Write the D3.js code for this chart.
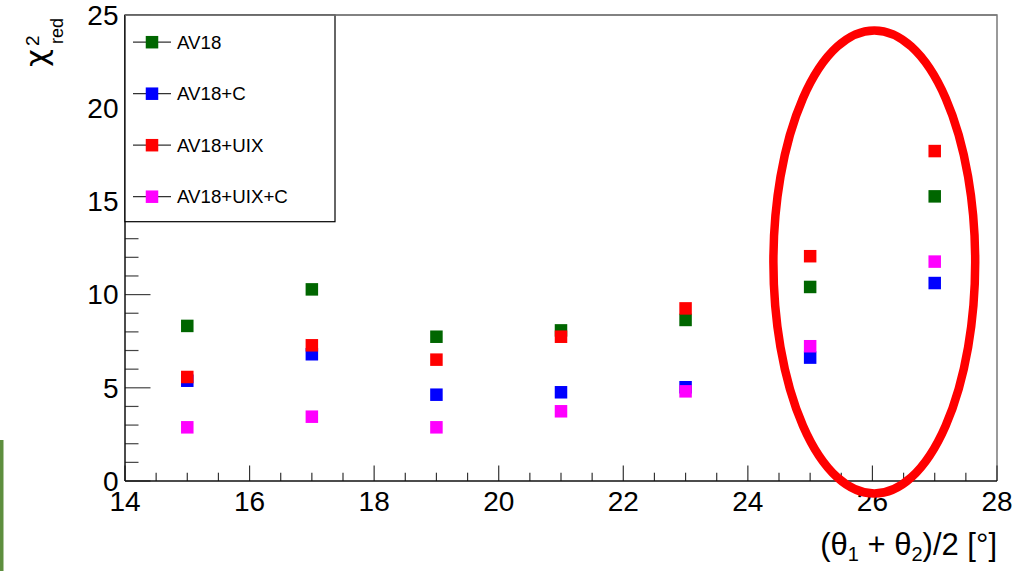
<!DOCTYPE html>
<html>
<head>
<meta charset="utf-8">
<script src="https://cdn.jsdelivr.net/npm/d3@7"></script>
<style>
  html, body { margin: 0; padding: 0; background: #fff; }
  svg { display: block; font-family: "Liberation Sans", Arial, Helvetica, sans-serif; }
</style>
</head>
<body>
<svg id="chart" width="1023" height="571"></svg>
<script>
// ---- data ----
const angles = [15, 17, 19, 21, 23, 25, 27];
const seriesNames = ["AV18", "AV18+C", "AV18+UIX", "AV18+UIX+C"];
const seriesColors = ["#006600", "#0000ff", "#ff0000", "#ff00ff"];
const av18      = [8.32, 10.28, 7.74, 8.08, 8.64, 10.41, 15.27];
const av18C     = [5.38, 6.80, 4.63, 4.76, 5.03, 6.62, 10.62];
const av18UIX   = [5.58, 7.28, 6.51, 7.74, 9.26, 12.06, 17.70];
const av18UIXC  = [2.88, 3.45, 2.88, 3.74, 4.81, 7.23, 11.77];
const xTicks = [14, 16, 18, 20, 22, 24, 26, 28];
const yTicks = [0, 5, 10, 15, 20, 25];
// highlighted region (data units): centre angle, centre chi2, half-widths
const highlight = { cx: 26.03, cy: 11.75, rx: 1.62, ry: 12.42 };

const seriesValues = [av18, av18C, av18UIX, av18UIXC];

// ---- layout ----
const svg = d3.select("#chart");
const L = 125, R = 997, T = 15, B = 481;
const x = d3.scaleLinear().domain([14, 28]).range([L, R]);
const y = d3.scaleLinear().domain([0, 25]).range([B, T]);

// green side bar
svg.append("rect").attr("x", 0).attr("y", 440).attr("width", 3.5).attr("height", 131).attr("fill", "#5e8f3e");

// frame (top/right grey)
svg.append("path")
  .attr("d", `M${L},${T}H${R}V${B}`)
  .attr("fill", "none").attr("stroke", "#7a7a7a").attr("stroke-width", 1.5);

// x axis ticks
const xMinor = d3.range(14, 28.001, 0.5);
svg.append("g").selectAll("line").data(xMinor).join("line")
  .attr("x1", d => x(d)).attr("x2", d => x(d))
  .attr("y1", B).attr("y2", d => (Math.abs(d % 2) < 1e-6 ? B - 15.5 : B - 8.3))
  .attr("stroke", "#333").attr("stroke-width", 1.2);
// y axis ticks
const yMinor = d3.range(0, 25.001, 1);
svg.append("g").selectAll("line").data(yMinor).join("line")
  .attr("y1", d => y(d)).attr("y2", d => y(d))
  .attr("x1", L).attr("x2", d => (d % 5 === 0 ? L + 25.5 : L + 13.5))
  .attr("stroke", "#444").attr("stroke-width", 1.2);

// axis lines
svg.append("line").attr("x1", L).attr("x2", R).attr("y1", B).attr("y2", B).attr("stroke", "#111").attr("stroke-width", 1.5);
svg.append("line").attr("x1", L).attr("x2", L).attr("y1", T).attr("y2", B).attr("stroke", "#111").attr("stroke-width", 1.5);

// tick labels
svg.append("g").selectAll("text").data(xTicks).join("text")
  .attr("x", d => x(d)).attr("y", 510.5)
  .attr("text-anchor", "middle").attr("font-size", 28).attr("fill", "#000")
  .text(d => d);
svg.append("g").selectAll("text").data(yTicks).join("text")
  .attr("x", 118.5).attr("y", d => y(d) + 9.8)
  .attr("text-anchor", "end").attr("font-size", 28).attr("fill", "#000")
  .text(d => d);

// axis titles
const xt = svg.append("text").attr("x", R).attr("y", 555).attr("text-anchor", "end")
  .attr("font-size", 31).attr("fill", "#000");
xt.append("tspan").text("(\u03b8");
xt.append("tspan").attr("font-size", 20).attr("dy", 6).text("1");
xt.append("tspan").attr("dy", -6).text(" + \u03b8");
xt.append("tspan").attr("font-size", 20).attr("dy", 6).text("2");
xt.append("tspan").attr("dy", -6).text(")/2 [\u00b0]");

const yt = svg.append("g").attr("transform", "translate(47,67) rotate(-90)");
yt.append("text").attr("x", 0).attr("y", 0).attr("font-size", 31)
  .attr("font-family", "DejaVu Sans").attr("fill", "#000").text("\u03c7");
yt.append("text").attr("x", 21).attr("y", -8).attr("font-size", 19).attr("fill", "#000").text("2");
yt.append("text").attr("x", 23).attr("y", 16).attr("font-size", 18).attr("fill", "#000").text("red");

// data points
const sq = 12.5;
seriesValues.forEach((vals, si) => {
  svg.append("g").selectAll("rect").data(vals).join("rect")
    .attr("x", (d, i) => x(angles[i]) - sq / 2)
    .attr("y", d => y(d) - sq / 2)
    .attr("width", sq).attr("height", sq)
    .attr("fill", seriesColors[si]);
});

// legend
const lg = svg.append("g");
lg.append("rect").attr("x", L).attr("y", T).attr("width", 210).attr("height", 206.7)
  .attr("fill", "#fff").attr("stroke", "#000").attr("stroke-width", 1.2);
seriesNames.forEach((name, i) => {
  const cy = 42.2 + i * 51.5;
  lg.append("line").attr("x1", 133).attr("x2", 171).attr("y1", cy).attr("y2", cy)
    .attr("stroke", "#333").attr("stroke-width", 1.2);
  lg.append("rect").attr("x", 152 - sq / 2).attr("y", cy - sq / 2).attr("width", sq).attr("height", sq)
    .attr("fill", seriesColors[i]);
  lg.append("text").attr("x", 177).attr("y", cy + 6.6).attr("font-size", 18.7).attr("fill", "#000").text(name);
});
// redraw top frame line over legend border
svg.append("line").attr("x1", L).attr("x2", R).attr("y1", T).attr("y2", T).attr("stroke", "#7a7a7a").attr("stroke-width", 1.5);

// highlight ellipse
svg.append("ellipse")
  .attr("cx", x(highlight.cx)).attr("cy", y(highlight.cy))
  .attr("rx", x(highlight.cx + highlight.rx) - x(highlight.cx))
  .attr("ry", y(highlight.cy) - y(highlight.cy + highlight.ry))
  .attr("fill", "none").attr("stroke", "#ff0000").attr("stroke-width", 8.5);
</script>
</body>
</html>
